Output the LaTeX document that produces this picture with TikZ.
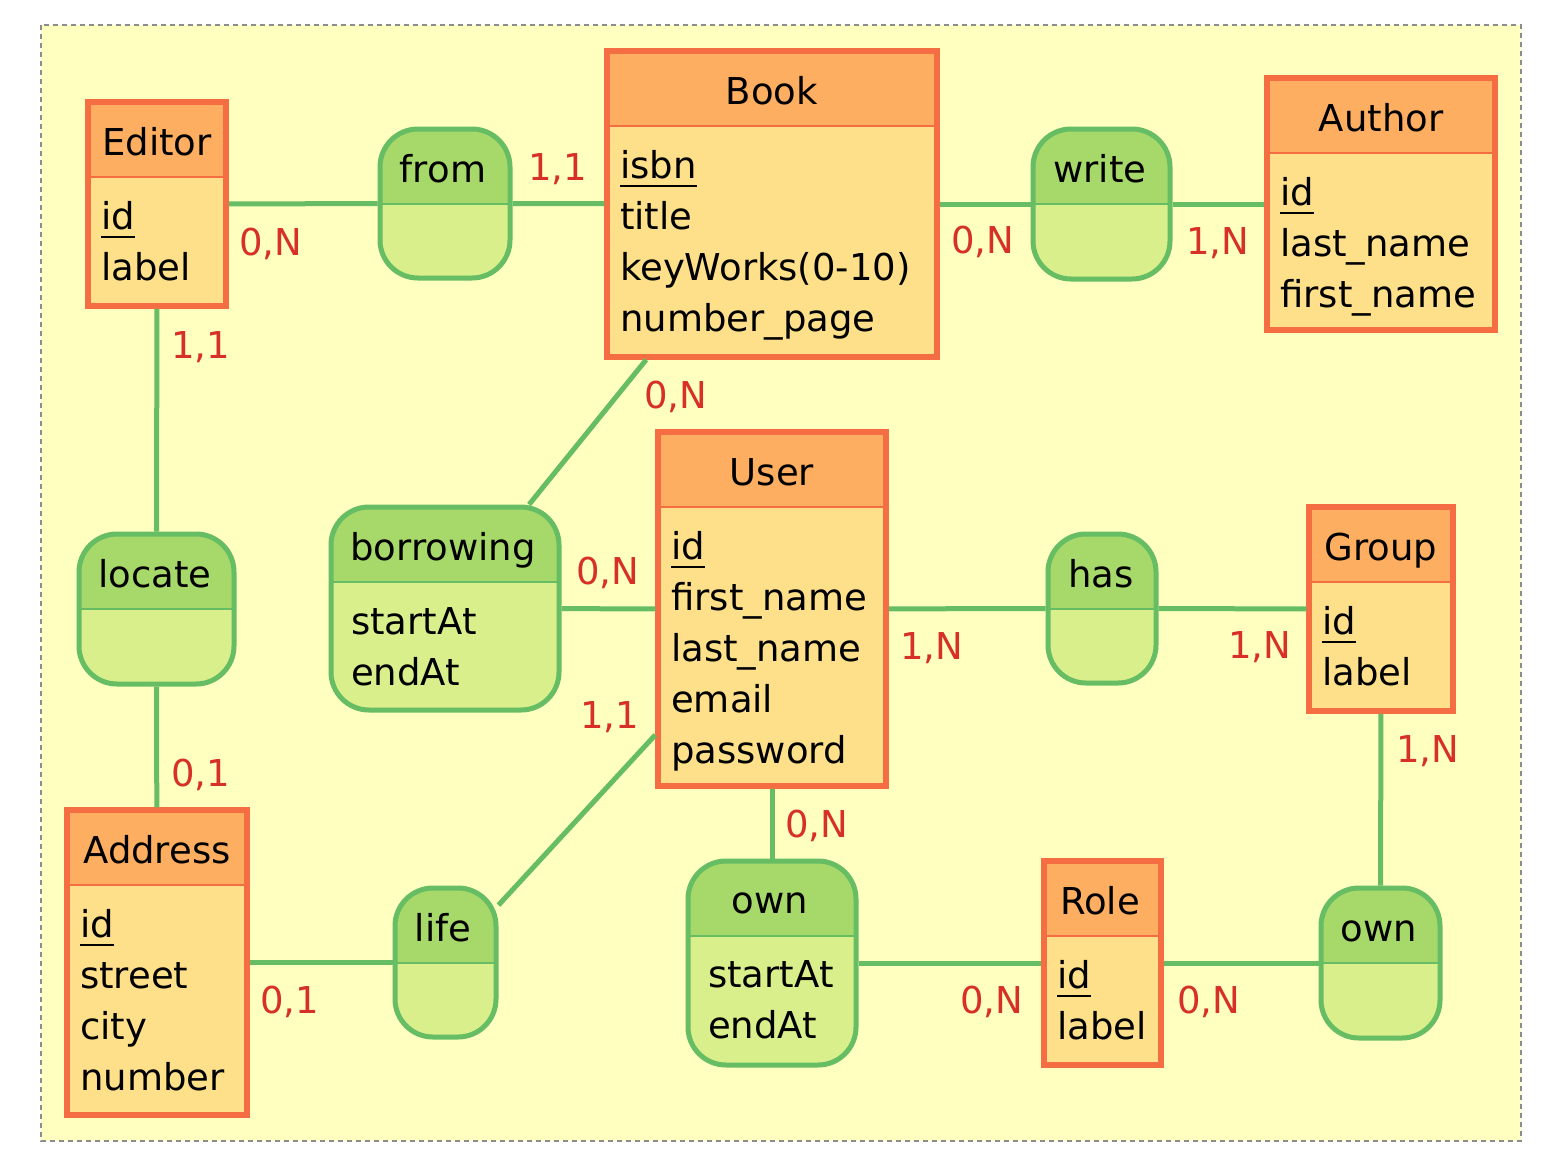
\documentclass[tikz,border=0pt]{standalone}
\usepackage{fontspec}
\setmainfont{DejaVu Sans}
\usetikzlibrary{calc}
\definecolor{entline}{HTML}{F46D43}
\definecolor{enthead}{HTML}{FDAE61}
\definecolor{entbody}{HTML}{FEE08B}
\definecolor{relline}{HTML}{66BD63}
\definecolor{relhead}{HTML}{A6D96A}
\definecolor{relbody}{HTML}{D9EF8B}
\definecolor{cardred}{HTML}{D73027}
\definecolor{paper}{HTML}{FFFFBF}
\newcommand{\pk}[1]{\setbox0=\hbox{#1}\rlap{\vrule height -6.5pt depth 9pt width \wd0}\box0}

\begin{document}
\begin{tikzpicture}[x=1pt,y=-1pt]

\tikzstyle{entity_block} = [draw=entline, line width=5.5pt, fill=entbody, inner sep=0,
path picture={\fill[enthead, sharp corners] (path picture bounding box.north west) rectangle ([yshift=-75pt]path picture bounding box.north east);
\draw[entline, line width=2pt, sharp corners] ([yshift=-75pt]path picture bounding box.north west) -- ([yshift=-75pt]path picture bounding box.north east);}]
\tikzstyle{rel_block} = [draw=relline, line width=5pt, fill=relbody, inner sep=0, rounded corners=38pt,
path picture={\fill[relhead, sharp corners] (path picture bounding box.north west) rectangle ([yshift=-75pt]path picture bounding box.north east);
\draw[relline, line width=2pt, sharp corners] ([yshift=-75pt]path picture bounding box.north west) -- ([yshift=-75pt]path picture bounding box.north east);}]
\tikzstyle{title} = [anchor=base, inner sep=0, font=\fontsize{37pt}{51pt}\selectfont]
\tikzstyle{attrs} = [anchor=base west, inner sep=0, font=\fontsize{37pt}{51pt}\selectfont]
\tikzstyle{card} = [anchor=base west, inner sep=0, text=cardred, font=\fontsize{37pt}{51pt}\selectfont]
\tikzstyle{link} = [draw=relline, line width=5pt]

\useasboundingbox (0,0) rectangle (1541,1160);
\fill[paper] (41,25) rectangle (1521,1141);
\draw[black!45, line width=1.5pt, dash pattern=on 5pt off 4pt] (41,25) rectangle (1521,1141);

% entities
\node [entity_block, minimum width=138pt, minimum height=204pt] (editor) at (157,204) {};
\node [title] (editor-t) at (157,155) {Editor};
\node [attrs] (editor-a) at (101,229) {\begin{tabular}[t]{@{}l@{}} \pk{id}\\ label\end{tabular}};

\node [entity_block, minimum width=330pt, minimum height=306pt] (book) at (772,204) {};
\node [title] (book-t) at (772,104) {Book};
\node [attrs] (book-a) at (620,178) {\begin{tabular}[t]{@{}l@{}} \pk{isbn}\\ title\\ keyWorks(0-10)\\ number\_page\end{tabular}};

\node [entity_block, minimum width=228pt, minimum height=252pt] (author) at (1381,204) {};
\node [title] (author-t) at (1381,131) {Author};
\node [attrs] (author-a) at (1280,205) {\begin{tabular}[t]{@{}l@{}} \pk{id}\\ last\_name\\ first\_name\end{tabular}};

\node [entity_block, minimum width=228pt, minimum height=354pt] (user) at (772,609) {};
\node [title] (user-t) at (772,485) {User};
\node [attrs] (user-a) at (671,559) {\begin{tabular}[t]{@{}l@{}} \pk{id}\\ first\_name\\ last\_name\\ email\\ password\end{tabular}};

\node [entity_block, minimum width=144pt, minimum height=204pt] (group) at (1381,609) {};
\node [title] (group-t) at (1381,560) {Group};
\node [attrs] (group-a) at (1322,634) {\begin{tabular}[t]{@{}l@{}} \pk{id}\\ label\end{tabular}};

\node [entity_block, minimum width=180pt, minimum height=305pt] (address) at (157,962.5) {};
\node [title] (address-t) at (157,863) {Address};
\node [attrs] (address-a) at (80,937) {\begin{tabular}[t]{@{}l@{}} \pk{id}\\ street\\ city\\ number\end{tabular}};

\node [entity_block, minimum width=117pt, minimum height=204pt] (role) at (1102.5,963) {};
\node [title] (role-t) at (1100,914) {Role};
\node [attrs] (role-a) at (1057,988) {\begin{tabular}[t]{@{}l@{}} \pk{id}\\ label\end{tabular}};

% relations
\node [rel_block, minimum width=130pt, minimum height=149pt] (from) at (445,203.5) {};
\node [title] (from-t) at (443,182) {from};

\node [rel_block, minimum width=137pt, minimum height=150pt] (write) at (1101.5,204) {};
\node [title] (write-t) at (1100,182) {write};

\node [rel_block, minimum width=228pt, minimum height=203pt] (borrowing) at (445,608.5) {};
\node [title] (borrowing-t) at (443,560) {borrowing};
\node [attrs] (borrowing-a) at (351,634) {\begin{tabular}[t]{@{}l@{}} startAt\\ endAt\end{tabular}};

\node [rel_block, minimum width=155pt, minimum height=150pt] (locate) at (156.5,609) {};
\node [title] (locate-t) at (155,587) {locate};

\node [rel_block, minimum width=108pt, minimum height=149pt] (has) at (1102,608.5) {};
\node [title] (has-t) at (1101,587) {has};

\node [rel_block, minimum width=101pt, minimum height=149pt] (life) at (445.5,962.5) {};
\node [title] (life-t) at (443,941) {life};

\node [rel_block, minimum width=168pt, minimum height=204pt] (own-u) at (772,963) {};
\node [title] (own-u-t) at (770,913) {own};
\node [attrs] (own-u-a) at (708,987) {\begin{tabular}[t]{@{}l@{}} startAt\\ endAt\end{tabular}};

\node [rel_block, minimum width=119pt, minimum height=150pt] (own-g) at (1380.5,963) {};
\node [title] (own-g-t) at (1379,941) {own};

% links
\draw[link] (editor) -- (from);
\draw[link] (from) -- (book);
\draw[link] (book) -- (write);
\draw[link] (write) -- (author);
\draw[link] (editor) -- (locate);
\draw[link] (locate) -- (address);
\draw[link] (book) -- (borrowing);
\draw[link] (borrowing) -- (user);
\draw[link] (user) -- (has);
\draw[link] (has) -- (group);
\draw[link] (group) -- (own-g);
\draw[link] (user) -- (own-u);
\draw[link] (own-u) -- (role);
\draw[link] (role) -- (own-g);
\draw[link] (address) -- (life);
\draw[link] (life) -- (user);

% cardinalities
\node [card] (c1) at (528,180) {1,1};
\node [card] (c2) at (239,255) {0,N};
\node [card] (c3) at (951,253) {0,N};
\node [card] (c4) at (1186,254) {1,N};
\node [card] (c5) at (171,358) {1,1};
\node [card] (c6) at (644,408) {0,N};
\node [card] (c7) at (576,584) {0,N};
\node [card] (c8) at (580,728) {1,1};
\node [card] (c9) at (900,659) {1,N};
\node [card] (c10) at (1228,658) {1,N};
\node [card] (c11) at (1396,762) {1,N};
\node [card] (c12) at (171,786) {0,1};
\node [card] (c13) at (785,837) {0,N};
\node [card] (c14) at (260,1013) {0,1};
\node [card] (c15) at (960,1013) {0,N};
\node [card] (c16) at (1177,1013) {0,N};

\end{tikzpicture}
\end{document}
